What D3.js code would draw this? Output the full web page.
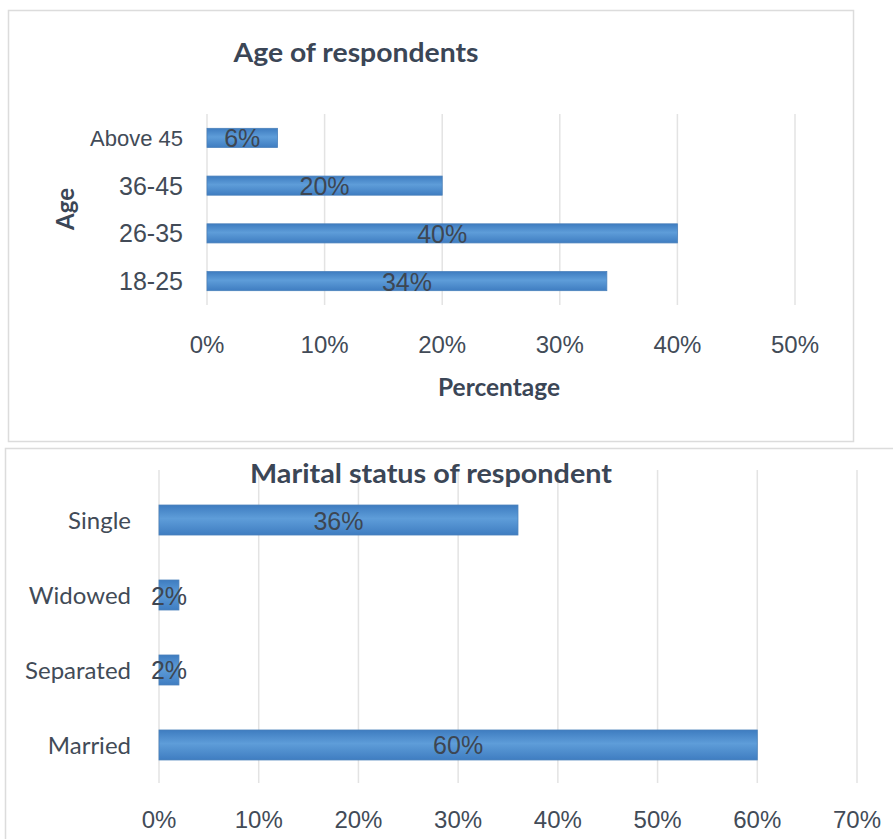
<!DOCTYPE html>
<html>
<head>
<meta charset="utf-8">
<script src="https://cdn.jsdelivr.net/npm/d3@7"></script>
<style>
  html, body { margin: 0; padding: 0; background: #ffffff; }
  svg { display: block; }
  text { font-family: "Liberation Sans", Arial, sans-serif; }
  .cal { font-family: Lato, "Open Sans", sans-serif; }
</style>
</head>
<body>
<svg id="chart" width="893" height="839"></svg>
<script>
// Age breakdown
const ageCategories = ["Above 45", "36-45", "26-35", "18-25"];
const ageValues = [0.06, 0.20, 0.40, 0.34];
const ageTicks = [0, 0.1, 0.2, 0.3, 0.4, 0.5];

// Marital status breakdown
const maritalCategories = ["Single", "Widowed", "Separated", "Married"];
const maritalValues = [0.36, 0.02, 0.02, 0.60];
const maritalTicks = [0, 0.1, 0.2, 0.3, 0.4, 0.5, 0.6, 0.7];

const svg = d3.select("#chart");
const pct = d3.format(".0%");

// bar fill gradient
const defs = svg.append("defs");
const grad = defs.append("linearGradient")
  .attr("id", "barGrad").attr("x1", 0).attr("y1", 0).attr("x2", 0).attr("y2", 1);
grad.append("stop").attr("offset", "0%").attr("stop-color", "#3e7cc0");
grad.append("stop").attr("offset", "45%").attr("stop-color", "#5e9dd9");
grad.append("stop").attr("offset", "100%").attr("stop-color", "#3f7dc1");

// panel frames
svg.append("rect").attr("x", 8.5).attr("y", 10.5).attr("width", 845).attr("height", 431)
  .attr("fill", "#fff").attr("stroke", "#dcdcdc").attr("stroke-width", 1.5);
svg.append("rect").attr("x", 5.5).attr("y", 448.5).attr("width", 900).attr("height", 400)
  .attr("fill", "#fff").attr("stroke", "#dcdcdc").attr("stroke-width", 1.5);

function drawChart(opt) {
  const g = svg.append("g");
  const x = d3.scaleLinear().domain(opt.domain).range(opt.xRange);
  const y = d3.scaleBand().domain(opt.categories).range(opt.yRange)
    .paddingInner(0.6).paddingOuter(opt.outer);

  // vertical gridlines
  g.append("g").selectAll("line").data(opt.ticks).join("line")
    .attr("x1", d => x(d)).attr("x2", d => x(d))
    .attr("y1", opt.gridY[0]).attr("y2", opt.gridY[1])
    .attr("stroke", "#e3e3e3").attr("stroke-width", 1.5);

  // tick labels
  g.append("g").selectAll("text").data(opt.ticks).join("text")
    .attr("x", d => x(d)).attr("y", opt.tickY)
    .attr("text-anchor", "middle")
    .attr("font-size", 24).attr("fill", "#424b57")
    .text(d => pct(d));

  // bars
  const data = opt.categories.map((c, i) => ({ c, v: opt.values[i] }));
  g.append("g").selectAll("rect").data(data).join("rect")
    .attr("x", x(0)).attr("y", d => y(d.c))
    .attr("width", d => x(d.v) - x(0)).attr("height", y.bandwidth())
    .attr("fill", "url(#barGrad)").attr("stroke", "#4a80bb").attr("stroke-width", 0.8);

  // value labels centred on each bar
  g.append("g").selectAll("text").data(data).join("text")
    .attr("x", d => (x(0) + x(d.v)) / 2).attr("y", d => y(d.c) + y.bandwidth() / 2)
    .attr("dy", "0.38em").attr("text-anchor", "middle")
    .attr("font-size", 25).attr("fill", "#3d4652")
    .text(d => pct(d.v));

  // category labels
  g.append("g").selectAll("text").data(opt.categories).join("text")
    .attr("class", opt.catClass)
    .attr("x", opt.catX).attr("y", d => y(d) + y.bandwidth() / 2)
    .attr("dy", "0.36em").attr("text-anchor", "end")
    .attr("font-size", d => opt.catSize(d)).attr("fill", "#424b57")
    .text(d => d);

  // title
  g.append("text").attr("class", "cal")
    .attr("x", opt.titleX).attr("y", opt.titleY)
    .attr("text-anchor", "middle").attr("font-weight", "bold")
    .attr("font-size", 27).attr("fill", "#3b4656")
    .attr("textLength", opt.titleLen).attr("lengthAdjust", "spacingAndGlyphs")
    .text(opt.title);

  return { x, y };
}

drawChart({
  categories: ageCategories, values: ageValues, ticks: ageTicks,
  domain: [0, 0.5], xRange: [207, 795], yRange: [114, 305], outer: 0.3,
  gridY: [114, 305], tickY: 353,
  catX: 183, catClass: null, catSize: d => d.length > 5 ? 22 : 25,
  title: "Age of respondents", titleX: 356, titleY: 62, titleLen: 245
});

// axis titles for the age chart
svg.append("text").attr("class", "cal").attr("x", 499).attr("y", 396)
  .attr("text-anchor", "middle").attr("font-weight", "bold")
  .attr("font-size", 24).attr("fill", "#3b4656")
  .attr("textLength", 122).attr("lengthAdjust", "spacingAndGlyphs")
  .text("Percentage");
svg.append("text").attr("class", "cal")
  .attr("transform", "translate(74,209) rotate(-90)")
  .attr("text-anchor", "middle").attr("font-weight", "bold")
  .attr("font-size", 24).attr("fill", "#3b4656")
  .attr("textLength", 42).attr("lengthAdjust", "spacingAndGlyphs")
  .text("Age");

drawChart({
  categories: maritalCategories, values: maritalValues, ticks: maritalTicks,
  domain: [0, 0.7], xRange: [159, 857], yRange: [470, 795], outer: 0.467,
  gridY: [470, 783], tickY: 828,
  catX: 131, catClass: "cal", catSize: () => 24,
  title: "Marital status of respondent", titleX: 431, titleY: 483, titleLen: 362
});
</script>
</body>
</html>
